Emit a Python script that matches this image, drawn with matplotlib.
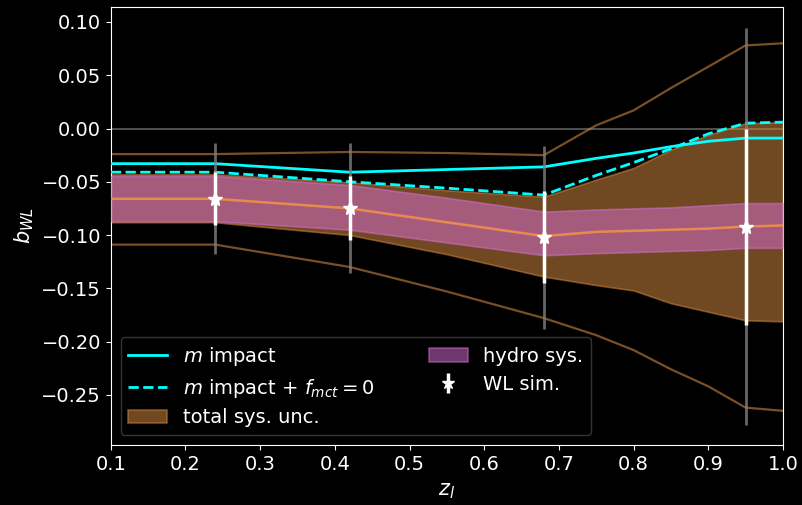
import matplotlib
matplotlib.use("Agg")
import matplotlib.pyplot as plt
import numpy as np

plt.style.use("dark_background")

# redshift grid
z = [0.1, 0.24, 0.42, 0.55, 0.68, 0.75, 0.8, 0.85, 0.9, 0.95, 1.0]

m_impact = [-0.033, -0.033, -0.041, -0.0385, -0.036, -0.028, -0.023, -0.017, -0.012, -0.009, -0.009]
m_impact_fmct0 = [-0.041, -0.041, -0.050, -0.056, -0.0625, -0.044, -0.032, -0.019, -0.005, 0.005, 0.006]

tot_upper = [-0.043, -0.043, -0.0505, -0.058, -0.064, -0.048, -0.037, -0.020, -0.006, 0.005, 0.006]
tot_lower = [-0.088, -0.088, -0.100, -0.118, -0.139, -0.147, -0.152, -0.164, -0.172, -0.180, -0.181]
tot2_upper = [-0.024, -0.024, -0.022, -0.023, -0.025, 0.003, 0.017, 0.038, 0.058, 0.078, 0.080]
tot2_lower = [-0.109, -0.109, -0.130, -0.153, -0.178, -0.194, -0.208, -0.226, -0.242, -0.262, -0.265]

hydro_upper = [-0.0445, -0.0445, -0.053, -0.065, -0.078, -0.076, -0.075, -0.074, -0.072, -0.070, -0.070]
hydro_lower = [-0.087, -0.087, -0.095, -0.107, -0.119, -0.117, -0.116, -0.115, -0.114, -0.112, -0.112]
hydro_mid = [-0.066, -0.066, -0.075, -0.088, -0.101, -0.097, -0.096, -0.095, -0.094, -0.092, -0.091]

wl_z = [0.24, 0.42, 0.68, 0.95]
wl_b = [-0.066, -0.075, -0.102, -0.092]
wl_err1 = [0.025, 0.030, 0.043, 0.092]
wl_err2 = [0.052, 0.061, 0.086, 0.186]

fig = plt.figure(figsize=(8.03, 5.05), dpi=100)
ax = fig.add_axes([0.138, 0.119, 0.837, 0.867])

ax.axhline(0, color="0.3", lw=1.5, zorder=1)

brown = "#cd853f"
ax.fill_between(z, tot_lower, tot_upper, color=brown, alpha=0.55, lw=1.2,
                edgecolor=brown, zorder=2, label="total sys. unc.")
ax.plot(z, tot2_upper, color=brown, alpha=0.6, lw=1.6, zorder=2)
ax.plot(z, tot2_lower, color=brown, alpha=0.6, lw=1.6, zorder=2)

ax.fill_between(z, hydro_lower, hydro_upper, color="orchid", alpha=0.5, lw=1.2,
                zorder=3, label="hydro sys.")
ax.plot(z, hydro_mid, color="#f0904a", lw=1.8, alpha=0.9, zorder=4)

ax.plot(z, m_impact, color="cyan", lw=2, zorder=5, label="$m$ impact")
ax.plot(z, m_impact_fmct0, color="cyan", lw=2, ls="--", zorder=5,
        label="$m$ impact + $f_{mct}=0$")

ax.errorbar(wl_z, wl_b, yerr=wl_err2, fmt="none", ecolor="0.5", elinewidth=2,
            alpha=0.8, zorder=6)
ax.errorbar(wl_z, wl_b, yerr=wl_err1, fmt="*", color="white", ms=11,
            elinewidth=2.5, zorder=7, label="WL sim.")

ax.set_xlim(0.1, 1.0)
ax.set_ylim(-0.297, 0.114)
ax.set_xticks(np.arange(0.1, 1.01, 0.1))
ax.set_yticks([0.10, 0.05, 0.0, -0.05, -0.10, -0.15, -0.20, -0.25])
ax.tick_params(labelsize=14)
ax.set_xlabel("$z_l$", fontsize=15, labelpad=5)
ax.set_ylabel("$b_{WL}$", fontsize=15)

h, l = ax.get_legend_handles_labels()
order = [l.index(k) for k in ["$m$ impact", "$m$ impact + $f_{mct}=0$",
                               "total sys. unc.", "hydro sys.", "WL sim."]]
leg = ax.legend([h[i] for i in order], [l[i] for i in order], ncol=2,
                loc="lower left", fontsize=14, facecolor="black",
                edgecolor="0.25", framealpha=0.8, labelspacing=0.45,
                columnspacing=2.8, markerscale=0.8)

fig.savefig("out.png", dpi=100)
